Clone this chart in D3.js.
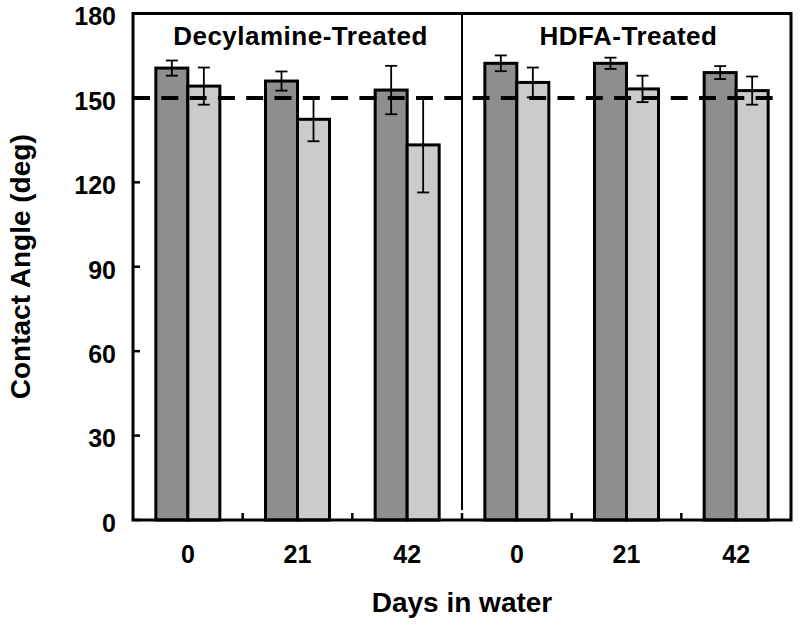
<!DOCTYPE html>
<html>
<head>
<meta charset="utf-8">
<script src="https://cdn.jsdelivr.net/npm/d3@7"></script>
<style>
  html, body { margin: 0; padding: 0; background: #fff; }
  svg { display: block; font-family: "Liberation Sans", Arial, sans-serif; }
</style>
</head>
<body>
<svg id="chart" width="800" height="627"></svg>
<script>
// ---- data ----
const categories = ["0", "21", "42", "0", "21", "42"];
const panels = ["Decylamine-Treated", "HDFA-Treated"];
const darkValues  = [160.6, 156.0, 152.8, 162.3, 162.3, 159.0];
const darkErrors  = [2.7, 3.4, 8.6, 2.8, 2.0, 2.3];
const lightValues = [154.2, 142.4, 133.3, 155.5, 153.2, 152.6];
const lightErrors = [6.6, 7.8, 16.9, 5.3, 4.7, 5.0];
const yTicks = [0, 30, 60, 90, 120, 150, 180];
const threshold = 150;

// ---- layout ----
const pL = 133, pR = 791, pT = 13.5, pB = 520;
const svg = d3.select("#chart");

const x = d3.scaleBand().domain(d3.range(categories.length)).range([pL, pR]).padding(0);
const y = d3.scaleLinear().domain([0, 180]).range([pB, pT]);
const barW = 32;
const series = [
  { values: darkValues, errors: darkErrors, fill: "#8e8e8e", offset: -barW },
  { values: lightValues, errors: lightErrors, fill: "#cbcbcb", offset: 0 }
];

// bars
series.forEach(s => {
  svg.append("g").selectAll("rect").data(s.values).join("rect")
    .attr("x", (d, i) => x(i) + x.bandwidth() / 2 + s.offset)
    .attr("y", d => y(d))
    .attr("width", barW)
    .attr("height", d => pB - y(d))
    .attr("fill", s.fill)
    .attr("stroke", "#000")
    .attr("stroke-width", 3);
});

// error bars
series.forEach(s => {
  const g = svg.append("g").attr("stroke", "#000").attr("stroke-width", 1.8);
  s.values.forEach((v, i) => {
    const cx = x(i) + x.bandwidth() / 2 + s.offset + barW / 2;
    const e = s.errors[i];
    g.append("line").attr("x1", cx).attr("x2", cx).attr("y1", y(v + e)).attr("y2", y(v - e));
    g.append("line").attr("x1", cx - 6).attr("x2", cx + 6).attr("y1", y(v + e)).attr("y2", y(v + e));
    g.append("line").attr("x1", cx - 6).attr("x2", cx + 6).attr("y1", y(v - e)).attr("y2", y(v - e));
  });
});

// dashed threshold line
svg.append("line")
  .attr("x1", pL).attr("x2", 780)
  .attr("y1", y(threshold)).attr("y2", y(threshold))
  .attr("stroke", "#000").attr("stroke-width", 4)
  .attr("stroke-dasharray", "17,11.3");

// frame
svg.append("rect")
  .attr("x", pL).attr("y", pT)
  .attr("width", pR - pL).attr("height", pB - pT)
  .attr("fill", "none").attr("stroke", "#000").attr("stroke-width", 3);

// divider between panels
const mid = x(3);
svg.append("line").attr("x1", mid).attr("x2", mid).attr("y1", pT).attr("y2", 510)
  .attr("stroke", "#000").attr("stroke-width", 2);

// y ticks (inward)
svg.append("g").selectAll("line").data(yTicks).join("line")
  .attr("x1", pL).attr("x2", pL + 7)
  .attr("y1", d => y(d)).attr("y2", d => y(d))
  .attr("stroke", "#000").attr("stroke-width", 2.5);

// x ticks at category boundaries (inward)
svg.append("g").selectAll("line").data(d3.range(1, categories.length)).join("line")
  .attr("x1", d => x(d)).attr("x2", d => x(d))
  .attr("y1", pB).attr("y2", pB - 7)
  .attr("stroke", "#000").attr("stroke-width", 2.5);

// y tick labels
svg.append("g").selectAll("text").data(yTicks).join("text")
  .attr("x", 116)
  .attr("y", d => y(d) + 3)
  .attr("dy", "0.35em")
  .attr("text-anchor", "end")
  .attr("font-size", 25).attr("font-weight", "bold")
  .text(d => d);

// x tick labels
svg.append("g").selectAll("text").data(categories).join("text")
  .attr("x", (d, i) => x(i) + x.bandwidth() / 2)
  .attr("y", 563)
  .attr("text-anchor", "middle")
  .attr("font-size", 25).attr("font-weight", "bold")
  .text(d => d);

// panel titles
svg.append("g").selectAll("text").data(panels).join("text")
  .attr("x", (d, i) => i === 0 ? (pL + mid) / 2 + 3 : (mid + pR) / 2 + 2)
  .attr("y", 45)
  .attr("text-anchor", "middle")
  .attr("font-size", 26).attr("font-weight", "bold")
  .attr("letter-spacing", 0.5)
  .text(d => d);

// axis titles
svg.append("text")
  .attr("x", (pL + pR) / 2).attr("y", 612)
  .attr("text-anchor", "middle")
  .attr("font-size", 28).attr("font-weight", "bold")
  .text("Days in water");

svg.append("text")
  .attr("transform", `translate(30, ${(pT + pB) / 2}) rotate(-90)`)
  .attr("text-anchor", "middle")
  .attr("font-size", 28).attr("font-weight", "bold")
  .text("Contact Angle (deg)");
</script>
</body>
</html>
